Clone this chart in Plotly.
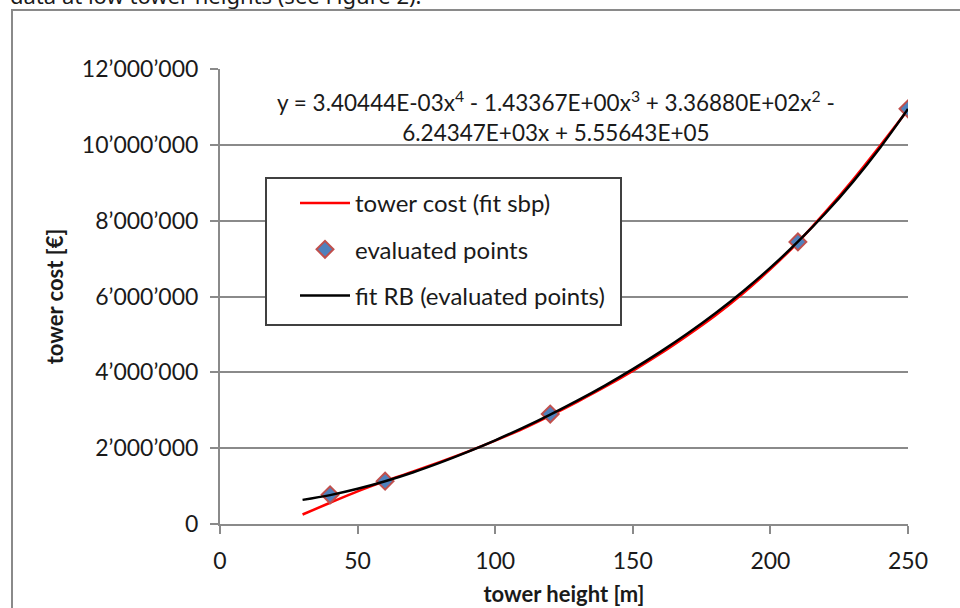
import plotly.graph_objects as go

# ---- data ----
height_fit = [30, 40, 50, 60, 70, 80, 90, 100, 110, 120, 130, 140, 150, 160, 170,
              180, 190, 200, 210, 220, 230, 240, 250]
cost_sbp = [250000, 560000, 860000, 1130000, 1380000, 1640000, 1910000, 2200000,
            2510000, 2860000, 3230000, 3620000, 4040000, 4490000, 4980000, 5500000,
            6080000, 6720000, 7430000, 8230000, 9080000, 9990000, 10930000]
cost_rb = [636000, 762000, 928000, 1128000, 1359000, 1618000, 1901000, 2207000,
           2535000, 2886000, 3260000, 3658000, 4084000, 4540000, 5030000, 5559000,
           6134000, 6760000, 7445000, 8196000, 9024000, 9938000, 10947000]
height_pts = [40, 60, 120, 210, 250]
cost_pts = [770000, 1130000, 2900000, 7440000, 10950000]

y_tickvals = [0, 2000000, 4000000, 6000000, 8000000, 10000000, 12000000]
y_ticktext = ["0", "2’000’000", "4’000’000", "6’000’000", "8’000’000",
              "10’000’000", "12’000’000"]
x_tickvals = [0, 50, 100, 150, 200, 250]

equation = ("y = 3.40444E-03x<sup>4</sup> - 1.43367E+00x<sup>3</sup> + "
            "3.36880E+02x<sup>2</sup> -<br>6.24347E+03x + 5.55643E+05")

FONT = "Lato"
GRID = "#8a8a8a"
TXT = "#1a1a1a"

# plot area in page pixels: x 220..908, y 69..524
L, R, T, B = 220, 908, 69, 524
W, H = R - L, B - T


def px(x):
    return (x - L) / W


def py(y):
    return (B - y) / H


fig = go.Figure()
fig.add_trace(go.Scatter(x=height_fit, y=cost_sbp, mode="lines",
                         name="tower cost (fit sbp)", legendgroup="a",
                         line=dict(color="#ff0000", width=2.5, shape="spline")))
fig.add_trace(go.Scatter(x=height_pts, y=cost_pts, mode="markers",
                         name="evaluated points", legendgroup="b",
                         marker=dict(symbol="diamond", size=13, color="#4f81bd",
                                     line=dict(color="#c0504d", width=2))))
fig.add_trace(go.Scatter(x=height_fit, y=cost_rb, mode="lines",
                         name="fit RB (evaluated points)", legendgroup="c",
                         line=dict(color="#000000", width=2.5, shape="spline")))

fig.update_layout(
    width=960, height=608,
    margin=dict(l=L, r=960 - R, t=T, b=608 - B, autoexpand=False),
    paper_bgcolor="white", plot_bgcolor="white",
    font=dict(family=FONT, size=22, color=TXT),
    showlegend=True,
    legend=dict(x=px(295), y=py(181), xanchor="left", yanchor="top",
                bgcolor="rgba(0,0,0,0)", borderwidth=0,
                font=dict(family=FONT, size=24, color=TXT),
                itemwidth=50, tracegroupgap=12, traceorder="grouped"),
    xaxis=dict(range=[0, 250], tickvals=x_tickvals, showgrid=False,
               showline=True, linecolor=GRID, linewidth=2,
               ticks="outside", ticklen=8, tickcolor=GRID, tickwidth=2,
               zeroline=False, tickfont=dict(size=23), ticklabelstandoff=7,
               automargin=False,
               title=dict(text="<b>tower height [m]</b>", standoff=14,
                          font=dict(family=FONT, size=22))),
    yaxis=dict(range=[0, 12000000], tickvals=y_tickvals, ticktext=y_ticktext,
               showgrid=True, gridcolor=GRID, gridwidth=2,
               showline=True, linecolor=GRID, linewidth=2,
               ticks="outside", ticklen=8, tickcolor=GRID, tickwidth=2,
               zeroline=False, tickfont=dict(size=23), ticklabelstandoff=7,
               automargin=False,
               title=dict(text="<b>tower cost [€]</b>", standoff=12,
                          font=dict(family=FONT, size=22))),
)

# outer chart-area border (partially cropped in the reference)
fig.add_shape(type="rect", xref="paper", yref="paper",
              x0=px(12), x1=px(975), y0=py(625), y1=py(10),
              line=dict(color=GRID, width=2), fillcolor="rgba(0,0,0,0)",
              layer="below")

# legend frame
fig.add_shape(type="rect", xref="paper", yref="paper",
              x0=px(266), x1=px(621), y0=py(325), y1=py(178),
              line=dict(color="#404040", width=2), fillcolor="white",
              layer="above")

fig.add_annotation(text=equation, xref="paper", yref="paper",
                   x=px(556), y=py(116),
                   xanchor="center", yanchor="middle", showarrow=False,
                   align="center",
                   font=dict(family=FONT, size=22.5, color=TXT))

# cropped line of the surrounding document text
fig.add_annotation(text="data at low tower heights (see Figure 2).",
                   xref="paper", yref="paper",
                   x=px(8), y=py(12),
                   xanchor="left", yanchor="bottom", showarrow=False,
                   font=dict(family="Noto Sans", size=22, color=TXT))

fig.write_html("out.html", config={"displayModeBar": False},
               post_script="document.body.style.margin='0px';")
